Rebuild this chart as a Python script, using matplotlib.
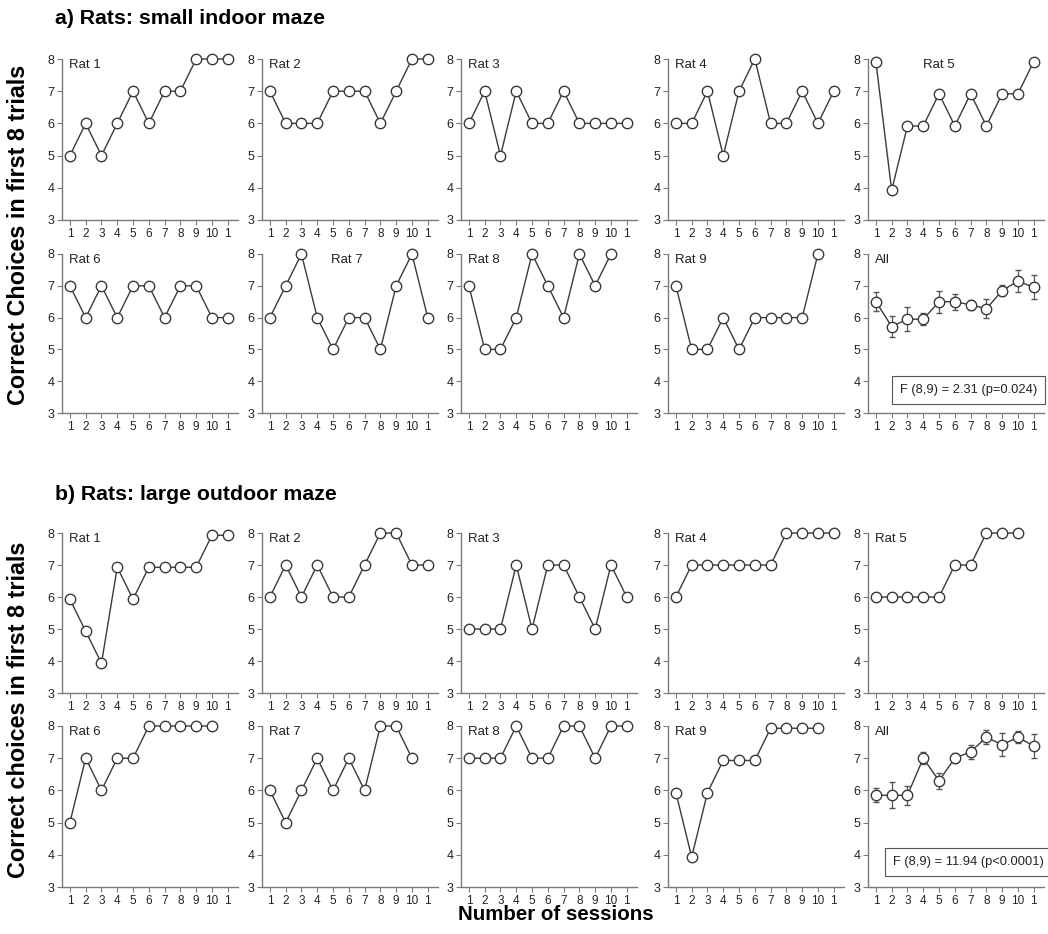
import matplotlib
matplotlib.use("Agg")
import matplotlib.pyplot as plt

plt.rcParams['font.family'] = ['Liberation Sans', 'DejaVu Sans']

sessions = list(range(1, 12))
tick_labels = ['1', '2', '3', '4', '5', '6', '7', '8', '9', '10', '1']

# a) small indoor maze
a_rat1 = [5, 6, 5, 6, 7, 6, 7, 7, 8, 8, 8]
a_rat2 = [7, 6, 6, 6, 7, 7, 7, 6, 7, 8, 8]
a_rat3 = [6, 7, 5, 7, 6, 6, 7, 6, 6, 6, 6]
a_rat4 = [6, 6, 7, 5, 7, 8, 6, 6, 7, 6, 7]
a_rat5 = [7.92, 3.92, 5.92, 5.92, 6.92, 5.92, 6.92, 5.92, 6.92, 6.92, 7.92]
a_rat6 = [7, 6, 7, 6, 7, 7, 6, 7, 7, 6, 6]
a_rat7 = [6, 7, 8, 6, 5, 6, 6, 5, 7, 8, 6]
a_rat8 = [7, 5, 5, 6, 8, 7, 6, 8, 7, 8]
a_rat9 = [7, 5, 5, 6, 5, 6, 6, 6, 6, 8]
a_all = [6.5, 5.72, 5.95, 5.95, 6.5, 6.5, 6.4, 6.28, 6.85, 7.15, 6.95]
a_all_err = [0.3, 0.33, 0.38, 0.18, 0.35, 0.25, 0.15, 0.3, 0.18, 0.35, 0.38]

# b) large outdoor maze
b_rat1 = [5.93, 4.93, 3.93, 6.93, 5.93, 6.93, 6.93, 6.93, 6.93, 7.93, 7.93]
b_rat2 = [6, 7, 6, 7, 6, 6, 7, 8, 8, 7, 7]
b_rat3 = [5, 5, 5, 7, 5, 7, 7, 6, 5, 7, 6]
b_rat4 = [6, 7, 7, 7, 7, 7, 7, 8, 8, 8, 8]
b_rat5 = [6, 6, 6, 6, 6, 7, 7, 8, 8, 8]
b_rat6 = [5, 7, 6, 7, 7, 8, 8, 8, 8, 8]
b_rat7 = [6, 5, 6, 7, 6, 7, 6, 8, 8, 7]
b_rat8 = [7, 7, 7, 8, 7, 7, 8, 8, 7, 8, 8]
b_rat9 = [5.93, 3.93, 5.93, 6.93, 6.93, 6.93, 7.93, 7.93, 7.93, 7.93]
b_all = [5.85, 5.85, 5.85, 7.0, 6.3, 7.0, 7.2, 7.65, 7.42, 7.65, 7.38]
b_all_err = [0.22, 0.4, 0.3, 0.18, 0.25, 0.15, 0.22, 0.22, 0.35, 0.18, 0.38]

panels = [
    [('Rat 1', a_rat1, 'left'), ('Rat 2', a_rat2, 'left'), ('Rat 3', a_rat3, 'left'),
     ('Rat 4', a_rat4, 'left'), ('Rat 5', a_rat5, 'mid')],
    [('Rat 6', a_rat6, 'left'), ('Rat 7', a_rat7, 'mid'), ('Rat 8', a_rat8, 'left'),
     ('Rat 9', a_rat9, 'left'), ('All', a_all, 'left')],
    [('Rat 1', b_rat1, 'left'), ('Rat 2', b_rat2, 'left'), ('Rat 3', b_rat3, 'left'),
     ('Rat 4', b_rat4, 'left'), ('Rat 5', b_rat5, 'left')],
    [('Rat 6', b_rat6, 'left'), ('Rat 7', b_rat7, 'left'), ('Rat 8', b_rat8, 'left'),
     ('Rat 9', b_rat9, 'left'), ('All', b_all, 'left')],
]
all_err = {1: a_all_err, 3: b_all_err}
stats = {1: ('F (8,9) = 2.31 (p=0.024)', 0.18, 0.145),
         3: ('F (8,9) = 11.94 (p<0.0001)', 0.142, 0.155)}

W, H = 1048, 934
fig = plt.figure(figsize=(W / 100, H / 100), dpi=100)

col_left = [62, 262, 461, 668, 868]
ax_w = 176
rows = [(59, 220), (254, 413), (533, 693), (726, 887)]

line_c = '#3a3a3a'
spine_c = '#7a7a7a'
text_c = '#222222'

for r, (top, bot) in enumerate(rows):
    for c, (name, vals, pos) in enumerate(panels[r]):
        ax = fig.add_axes([col_left[c] / W, 1 - bot / H, ax_w / W, (bot - top) / H])
        x = sessions[:len(vals)]
        if name == 'All':
            ax.errorbar(x, vals, yerr=all_err[r], color=line_c, ecolor='#555555',
                        elinewidth=0.9, capsize=2.5, capthick=0.9, lw=1.0,
                        marker='o', ms=7.5, mfc='white', mec=line_c, mew=1.0, clip_on=False)
            txt, tx, ty = stats[r]
            ax.text(tx, ty, txt, transform=ax.transAxes, fontsize=9.3,
                    color=text_c, va='center', ha='left',
                    bbox=dict(boxstyle='square,pad=0.6', fc='white', ec='#555555', lw=0.8))
        else:
            ax.plot(x, vals, color=line_c, lw=1.0, marker='o', ms=7.5,
                    mfc='white', mec=line_c, mew=1.0, clip_on=False)
        if pos == 'left':
            ax.text(0.95, 7.8, name, fontsize=9.5, color=text_c, ha='left', va='center')
        else:
            ax.text(4.0 if c == 4 else 4.85, 7.8, name, fontsize=9.5, color=text_c,
                    ha='left', va='center')
        ax.set_xlim(0.5, 11.65)
        ax.set_ylim(3, 8)
        ax.set_xticks(sessions)
        ax.set_xticklabels(tick_labels)
        ax.set_yticks([3, 4, 5, 6, 7, 8])
        for s in ['top', 'right']:
            ax.spines[s].set_visible(False)
        for s in ['left', 'bottom']:
            ax.spines[s].set_color(spine_c)
            ax.spines[s].set_linewidth(1.0)
        ax.tick_params(axis='both', colors=spine_c, labelcolor=text_c, length=3.5,
                       width=0.8, labelsize=8.5, pad=2)
        ax.tick_params(axis='y', labelsize=9)

fig.text(55 / W, 1 - 18 / H, 'a) Rats: small indoor maze', fontsize=15.3, fontweight='bold',
         ha='left', va='center')
fig.text(55 / W, 1 - 494 / H, 'b) Rats: large outdoor maze', fontsize=15.3, fontweight='bold',
         ha='left', va='center')
fig.text(19 / W, 1 - 235 / H, 'Correct Choices in first 8 trials', fontsize=16.8,
         fontweight='bold', rotation=90, ha='center', va='center')
fig.text(19 / W, 1 - 710 / H, 'Correct choices in first 8 trials', fontsize=16.8,
         fontweight='bold', rotation=90, ha='center', va='center')
fig.text(556 / W, 1 - 915 / H, 'Number of sessions', fontsize=14.8, fontweight='bold',
         ha='center', va='center')

fig.savefig('out.png', dpi=100, facecolor='white')
